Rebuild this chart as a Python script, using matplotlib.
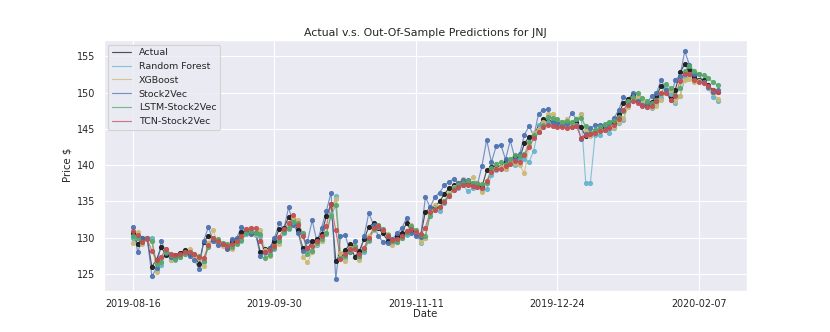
import pandas as pd
import numpy as np
import matplotlib.pyplot as plt
import seaborn as sns

sns.set_theme(style="darkgrid")
sns.set_color_codes("deep")
plt.rcParams['font.family'] = ['DejaVu Sans']

# trading days shown on the chart (NYSE holidays removed)
holidays = ['2019-09-02', '2019-11-28', '2019-12-25', '2020-01-01', '2020-01-20']
dates = pd.bdate_range('2019-08-16', periods=125, freq='C', holidays=holidays)

actual = [130.6, 129.1, 130.0, 129.9, 126.0, 127.0, 128.7, 127.6, 127.3, 127.6,
          127.9, 128.3, 127.7, 127.6, 126.4, 129.4, 130.3, 129.8, 129.3, 129.2,
          128.6, 129.5, 129.7, 130.8, 131.0, 130.7, 130.7, 128.0, 128.4, 128.6,
          129.6, 131.2, 131.4, 132.8, 132.3, 131.0, 128.6, 128.5, 129.5, 129.8,
          130.5, 133.0, 134.6, 126.8, 127.7, 128.3, 129.1, 127.4, 128.2, 129.8,
          131.5, 132.0, 131.3, 130.6, 129.6, 129.4, 130.2, 130.7, 132.0, 131.0,
          130.5, 130.3, 133.6, 134.0, 134.2, 135.0, 136.0, 136.8, 137.2, 137.5,
          137.7, 137.4, 137.3, 137.2, 137.0, 139.3, 139.8, 140.0, 139.8, 140.6,
          140.5, 141.2, 141.0, 143.0, 143.9, 144.2, 145.4, 146.3, 146.1, 145.9,
          145.8, 145.8, 145.6, 145.8, 146.0, 145.2, 144.0, 144.3, 144.7, 145.0,
          145.2, 145.4, 146.0, 147.0, 148.6, 149.1, 149.7, 149.0, 148.5, 148.3,
          148.7, 149.6, 150.9, 150.4, 149.2, 150.4, 152.8, 153.9, 153.1, 152.1,
          151.8, 151.7, 151.0, 150.3, 150.1]

random_forest = [130.0, 130.2, 129.4, 130.0, 130.0, 125.5, 126.3, 128.0, 126.9, 126.9,
                 127.4, 127.8, 128.0, 127.6, 127.4, 126.6, 129.0, 130.0, 129.6, 129.1,
                 128.9, 128.6, 129.3, 129.6, 130.5, 130.8, 130.4, 130.2, 127.9, 127.9,
                 128.5, 129.7, 130.6, 131.2, 132.3, 131.9, 130.5, 128.5, 128.2, 129.0,
                 129.6, 130.5, 133.3, 135.8, 127.4, 127.2, 128.3, 128.6, 127.2, 128.1,
                 129.6, 131.0, 131.5, 131.0, 130.2, 129.3, 129.4, 129.9, 130.4, 131.5,
                 130.7, 129.3, 130.0, 133.4, 133.8, 133.7, 134.8, 135.7, 136.6, 136.9,
                 137.2, 136.4, 136.8, 137.0, 136.5, 136.7, 138.6, 139.4, 139.6, 139.5,
                 140.2, 140.0, 140.9, 140.8, 140.5, 142.0, 145.5, 145.3, 145.9, 145.7,
                 145.6, 145.7, 145.5, 145.3, 145.6, 147.0, 137.6, 137.6, 144.2, 144.2,
                 144.8, 144.5, 145.1, 145.8, 146.2, 148.3, 148.8, 149.3, 148.6, 148.0,
                 147.9, 148.5, 149.2, 150.5, 149.8, 148.6, 149.5, 152.0, 152.6, 151.8,
                 151.6, 151.5, 150.6, 149.4, 148.8]

xgboost = [129.3, 130.8, 129.2, 129.9, 129.5, 125.3, 126.6, 128.5, 127.0, 127.2,
           127.5, 127.9, 128.4, 127.3, 127.2, 126.1, 129.3, 131.0, 129.2, 128.9,
           129.0, 128.5, 129.6, 129.9, 131.2, 131.4, 130.5, 131.0, 128.3, 127.5,
           128.9, 129.2, 131.0, 131.6, 132.8, 132.5, 127.4, 126.6, 128.0, 129.2,
           129.6, 130.7, 133.0, 135.4, 127.9, 126.8, 128.6, 128.8, 127.0, 128.6,
           130.2, 131.0, 131.7, 131.1, 130.5, 129.0, 129.7, 130.0, 130.9, 131.8,
           130.9, 129.4, 130.0, 133.8, 134.5, 134.2, 135.0, 136.2, 137.0, 137.6,
           138.1, 137.2, 138.4, 137.5, 136.3, 137.5, 139.0, 140.2, 139.7, 139.5,
           140.6, 140.3, 140.0, 138.9, 142.8, 144.5, 145.0, 146.0, 147.0, 147.1,
           146.2, 145.9, 146.3, 145.8, 146.4, 147.0, 144.8, 144.0, 144.6, 144.9,
           145.5, 145.6, 145.2, 146.0, 146.5, 148.0, 149.3, 149.4, 148.7, 148.6,
           148.0, 148.2, 149.0, 150.1, 150.3, 148.8, 149.6, 151.7, 151.9, 151.5,
           151.6, 151.3, 150.8, 150.0, 149.1]

stock2vec = [131.5, 128.0, 129.9, 130.0, 124.7, 125.8, 129.6, 127.9, 127.3, 127.2,
             127.6, 128.1, 127.5, 127.0, 125.7, 129.6, 131.5, 129.5, 129.0, 129.1,
             128.4, 129.8, 130.0, 131.5, 130.8, 130.5, 130.6, 127.5, 128.0, 128.6,
             130.0, 132.0, 131.2, 134.2, 131.8, 130.7, 128.2, 129.5, 132.4, 129.5,
             131.4, 133.7, 136.2, 124.3, 130.2, 130.4, 128.0, 129.6, 127.5, 130.2,
             133.4, 131.8, 130.3, 129.4, 129.3, 129.8, 130.6, 131.3, 132.7, 130.6,
             130.3, 130.1, 135.6, 134.2, 135.6, 136.2, 137.2, 137.7, 138.1, 137.6,
             137.9, 137.9, 137.6, 137.2, 139.9, 143.5, 140.4, 142.6, 142.8, 140.8,
             143.4, 140.9, 141.5, 144.2, 145.4, 144.0, 147.1, 147.6, 147.7, 146.0,
             145.8, 145.6, 145.8, 147.2, 146.4, 143.6, 144.3, 145.1, 145.5, 145.6,
             145.6, 145.8, 146.5, 147.6, 149.4, 148.9, 150.0, 148.8, 148.3, 148.6,
             149.5, 149.9, 151.8, 150.3, 149.0, 151.8, 152.3, 155.7, 153.8, 152.6,
             152.5, 151.4, 150.8, 150.1, 150.4]

lstm_stock2vec = [130.2, 130.0, 129.4, 129.8, 129.6, 126.4, 126.6, 128.0, 127.6, 127.1,
                  127.4, 127.8, 128.1, 127.7, 127.5, 126.8, 128.7, 130.0, 129.8, 129.3,
                  129.1, 128.7, 129.2, 129.7, 130.6, 130.9, 130.6, 130.5, 127.2, 127.6,
                  128.6, 129.5, 130.8, 131.3, 132.2, 132.1, 130.6, 127.8, 128.2, 129.3,
                  129.8, 130.6, 133.0, 134.5, 127.2, 127.5, 128.2, 128.9, 127.5, 128.3,
                  129.7, 131.2, 131.8, 131.2, 130.4, 129.6, 129.4, 130.0, 130.6, 131.6,
                  131.0, 130.4, 130.3, 133.0, 133.9, 134.3, 135.0, 135.9, 136.8, 137.3,
                  137.6, 137.8, 137.5, 137.5, 137.4, 137.6, 139.6, 140.2, 140.4, 140.2,
                  140.8, 141.4, 141.3, 141.5, 143.2, 144.1, 144.6, 145.6, 146.6, 146.5,
                  146.3, 146.0, 146.1, 146.0, 146.3, 146.5, 145.4, 144.5, 144.8, 145.3,
                  145.7, 146.0, 146.1, 146.6, 147.5, 148.8, 149.4, 149.9, 149.3, 148.8,
                  148.6, 149.0, 149.9, 151.2, 150.6, 149.7, 150.7, 153.0, 153.7, 153.0,
                  152.5, 152.4, 152.0, 151.4, 151.0]

tcn_stock2vec = [130.9, 130.4, 129.4, 129.8, 128.2, 127.0, 127.4, 128.4, 127.8, 127.6,
                 127.8, 128.0, 128.1, 127.7, 127.4, 127.2, 129.0, 129.9, 129.5, 129.2,
                 128.9, 129.1, 129.5, 130.2, 131.2, 131.4, 131.3, 129.6, 128.1, 128.3,
                 128.8, 130.1, 131.2, 132.0, 133.1, 131.8, 130.2, 128.6, 128.9, 129.6,
                 130.2, 131.6, 134.6, 131.0, 127.1, 127.8, 128.5, 128.4, 127.8, 128.6,
                 130.0, 131.3, 131.6, 131.0, 130.2, 129.7, 129.8, 130.3, 130.9, 131.2,
                 130.8, 130.5, 131.4, 133.5, 133.8, 134.2, 134.9, 135.8, 136.6, 137.0,
                 137.3, 137.3, 137.1, 137.0, 136.8, 137.8, 139.0, 139.5, 139.5, 139.9,
                 140.1, 140.6, 140.5, 141.4, 142.5, 143.7, 144.6, 145.3, 145.5, 145.4,
                 145.3, 145.3, 145.1, 145.2, 145.4, 143.8, 144.2, 144.3, 144.5, 144.7,
                 144.9, 145.1, 145.5, 146.3, 147.6, 148.3, 148.9, 148.6, 148.1, 148.0,
                 148.1, 148.8, 150.0, 150.0, 149.0, 149.5, 151.6, 152.6, 152.6, 151.8,
                 151.5, 151.3, 150.9, 150.3, 150.1]

series = [('Actual', actual, 'k'),
          ('Random Forest', random_forest, 'c'),
          ('XGBoost', xgboost, 'y'),
          ('Stock2Vec', stock2vec, 'b'),
          ('LSTM-Stock2Vec', lstm_stock2vec, 'g'),
          ('TCN-Stock2Vec', tcn_stock2vec, 'r')]

x = np.arange(len(dates))

fig, ax = plt.subplots(figsize=(10, 4), dpi=83)
fig.subplots_adjust(left=0.125, right=0.9, top=0.88, bottom=0.125)
for name, values, color in series:
    ax.plot(x, values, color=color, lw=1.0, alpha=0.75, label=name)
    ax.scatter(x, values, color=color, s=12, zorder=3, alpha=0.9)

ticks = x[::30]
ax.set_xticks(ticks)
ax.set_xticklabels([d.strftime('%Y-%m-%d') for d in dates[::30]], fontsize=8.3)
ax.tick_params(axis='both', pad=1.5)
ax.tick_params(axis='y', labelsize=8.3)
ax.set_xlabel('Date', fontsize=8.8, labelpad=0)
ax.set_ylabel('Price $', fontsize=8.8)
ax.set_title('Actual v.s. Out-Of-Sample Predictions for JNJ', fontsize=9.6, pad=3)
ax.legend(loc='upper left', fontsize=8.2)

plt.savefig('out.png', dpi=83)
